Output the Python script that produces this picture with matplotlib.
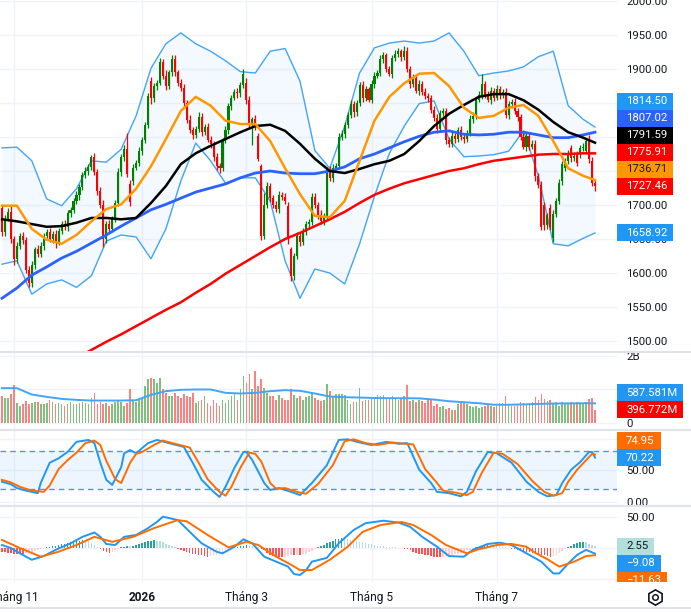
import numpy as np
import matplotlib
matplotlib.use('Agg')
import matplotlib.pyplot as plt
from matplotlib.patches import Rectangle
from matplotlib.lines import Line2D
from matplotlib.transforms import Bbox, IdentityTransform

plt.rcParams['font.family'] = ['Roboto', 'DejaVu Sans']

# ---------------- data ----------------
closes = [
    1660, 1680, 1690, 1650, 1620, 1640, 1655, 1648, 1605, 1585,
    1612, 1635, 1628, 1640, 1655, 1660, 1650, 1658, 1645, 1662,
    1672, 1668, 1688, 1692, 1706, 1714, 1726, 1744, 1750, 1756,
    1770, 1748, 1720, 1700, 1650, 1672, 1665, 1680, 1703, 1748,
    1770, 1782, 1745, 1705, 1755, 1762, 1780, 1795, 1818, 1860,
    1857, 1875, 1880, 1910, 1890, 1875, 1895, 1915, 1895, 1880,
    1872, 1850, 1825, 1810, 1803, 1812, 1830, 1808, 1815, 1796,
    1790, 1770, 1757, 1755, 1795, 1810, 1845, 1858, 1866, 1864,
    1876, 1892, 1855, 1818, 1826, 1815, 1768, 1655, 1700, 1728,
    1710, 1700, 1694, 1715, 1712, 1706, 1650, 1595, 1625, 1655,
    1646, 1660, 1672, 1675, 1712, 1700, 1686, 1677, 1684, 1752,
    1740, 1755, 1758, 1800, 1805, 1818, 1832, 1848, 1836, 1850,
    1876, 1858, 1870, 1855, 1878, 1890, 1894, 1914, 1920, 1900,
    1893, 1916, 1922, 1926, 1918, 1927, 1900, 1878, 1887, 1868,
    1878, 1866, 1860, 1857, 1840, 1828, 1812, 1835, 1838, 1795,
    1790, 1802, 1797, 1810, 1800, 1797, 1806, 1826, 1831, 1855,
    1862, 1878, 1862, 1855, 1868, 1858, 1870, 1862, 1866, 1832,
    1848, 1852, 1838, 1830, 1800, 1786, 1802, 1786, 1790, 1742,
    1730, 1668, 1670, 1685, 1668, 1687, 1706, 1732, 1760, 1765,
    1776, 1769, 1772, 1762, 1784, 1786, 1794, 1768, 1733, 1727.46,
]
# opens equal the prior close except where the picture shows a gap
open_overrides = {0: 1695, 43: 1731, 44: 1735, 50: 1882, 82: 1880, 86: 1801,
                  87: 1757, 96: 1699, 97: 1635, 182: 1700, 184: 1696, 185: 1651,
                  188: 1735, 189: 1755, 191: 1784, 193: 1775, 194: 1775,
                  196: 1780, 197: 1797, 198: 1765, 199: 1733}
wick_up = [
    4, 6, 5, 8, 5, 6, 4, 6, 5, 6, 5, 4, 6, 5, 4, 5, 6, 4, 5, 4,
    5, 6, 4, 5, 4, 6, 5, 4, 6, 5, 4, 6, 5, 6, 8, 5, 6, 4, 5, 6,
    5, 6, 24, 6, 5, 4, 6, 5, 4, 5, 6, 5, 4, 6, 5, 8, 4, 6, 5, 4,
    5, 6, 5, 8, 5, 4, 6, 5, 4, 6, 5, 4, 6, 5, 4, 6, 5, 4, 5, 6,
    5, 8, 6, 5, 4, 6, 5, 4, 18, 6, 5, 4, 6, 5, 4, 5, 6, 4, 5, 6,
    5, 6, 4, 5, 6, 5, 4, 6, 5, 4, 6, 5, 4, 6, 5, 4, 5, 6, 5, 4,
    5, 6, 5, 4, 6, 5, 4, 6, 5, 4, 5, 4, 6, 5, 4, 6, 5, 4, 5, 6,
    5, 4, 6, 5, 4, 5, 6, 4, 5, 4, 5, 6, 4, 5, 6, 5, 4, 6, 5, 4,
    5, 15, 4, 6, 5, 4, 6, 5, 4, 6, 5, 4, 6, 5, 4, 6, 5, 4, 5, 6,
    5, 6, 5, 4, 6, 5, 4, 6, 5, 4, 5, 4, 6, 5, 4, 5, 4, 6, 5, 4,
]
wick_dn = [
    6, 5, 4, 6, 8, 5, 4, 6, 5, 6, 5, 6, 4, 5, 6, 4, 5, 6, 8, 4,
    5, 4, 6, 5, 4, 5, 6, 4, 5, 6, 5, 4, 6, 5, 12, 6, 5, 4, 5, 4,
    6, 5, 4, 6, 5, 4, 5, 6, 4, 5, 8, 5, 6, 4, 5, 6, 4, 5, 6, 5,
    4, 6, 5, 4, 6, 5, 4, 6, 5, 4, 6, 5, 6, 8, 5, 4, 6, 5, 4, 6,
    5, 4, 6, 5, 30, 5, 4, 6, 5, 4, 6, 5, 4, 6, 5, 4, 8, 7, 5, 4,
    6, 5, 4, 6, 5, 4, 6, 5, 6, 4, 5, 6, 4, 5, 4, 6, 5, 4, 6, 5,
    4, 6, 5, 4, 5, 6, 4, 5, 6, 5, 4, 6, 5, 4, 6, 5, 4, 6, 5, 4,
    6, 5, 4, 6, 5, 4, 6, 5, 4, 6, 5, 4, 6, 5, 4, 6, 5, 4, 6, 5,
    4, 6, 5, 4, 6, 5, 4, 6, 5, 4, 6, 5, 4, 6, 5, 4, 6, 5, 4, 6,
    5, 4, 6, 5, 4, 6, 5, 4, 6, 5, 4, 6, 5, 4, 6, 5, 4, 6, 5, 7,
]
volume_m = [
    820, 760, 740, 880, 1120, 600, 520, 580, 650, 560,
    600, 640, 620, 560, 580, 600, 680, 640, 560, 600,
    580, 520, 560, 620, 560, 580, 600, 640, 600, 560,
    740, 900, 580, 640, 560, 600, 520, 560, 620, 700,
    620, 520, 600, 1000, 660, 620, 700, 760, 1100, 1300,
    1340, 1300, 1200, 1340, 1000, 900, 800, 800, 900, 820,
    750, 880, 800, 780, 900, 600, 650, 700, 800, 600,
    520, 700, 600, 520, 700, 600, 700, 800, 860, 700,
    1000, 1400, 1200, 1450, 1000, 1550, 1100, 1300, 1050, 900,
    800, 800, 700, 850, 750, 680, 700, 1000, 850, 750,
    800, 700, 780, 820, 900, 750, 700, 650, 700, 1150,
    950, 800, 880, 860, 860, 850, 700, 560, 640, 620,
    1050, 650, 680, 700, 720, 750, 850, 800, 830, 760,
    780, 800, 760, 700, 750, 820, 1120, 650, 700, 620,
    680, 650, 600, 700, 680, 520, 560, 480, 500, 420,
    460, 400, 380, 560, 600, 620, 560, 500, 480, 520,
    450, 480, 500, 560, 500, 480, 520, 600, 600, 800,
    580, 520, 500, 560, 620, 600, 540, 580, 640, 780,
    700, 870, 720, 650, 700, 600, 620, 520, 640, 600,
    560, 640, 580, 620, 560, 600, 640, 720, 750, 396.772,
]

# indicator lines, read every 5th bar
line_idx = list(range(0, 200, 5)) + [199]
vol_ma_m = [1040, 1040, 850, 780, 720, 690, 670, 670, 670, 680,
            840, 950, 990, 1000, 1000, 900, 880, 900, 950, 980,
            960, 880, 790, 770, 760, 745, 740, 740, 735, 700,
            650, 620, 590, 545, 545, 555, 570, 580, 585, 590, 587.581]
bb_upper = [1784, 1785, 1765, 1709, 1699, 1724, 1765, 1763, 1782, 1831,
            1901, 1937, 1953, 1937, 1926, 1912, 1896, 1894, 1926, 1930,
            1882, 1780, 1754, 1816, 1894, 1931, 1938, 1941, 1938, 1941,
            1953, 1926, 1890, 1894, 1897, 1903, 1918, 1926, 1846, 1826, 1814.50]
bb_lower = [1613, 1618, 1569, 1584, 1590, 1579, 1596, 1647, 1656, 1653,
            1621, 1665, 1735, 1791, 1765, 1732, 1740, 1740, 1706, 1618,
            1563, 1606, 1600, 1584, 1643, 1713, 1776, 1816, 1849, 1853,
            1797, 1771, 1772, 1774, 1779, 1809, 1743, 1643, 1640, 1651, 1658.92]
ma_orange = [1699, 1699, 1665, 1649, 1643, 1656, 1676, 1694, 1701, 1724,
             1757, 1797, 1838, 1859, 1846, 1824, 1819, 1819, 1794, 1754,
             1716, 1684, 1682, 1706, 1765, 1824, 1859, 1879, 1893, 1894,
             1875, 1843, 1828, 1831, 1843, 1847, 1831, 1794, 1754, 1743, 1736.71]
ma_black = [1679, 1676, 1672, 1668, 1669, 1674, 1681, 1681, 1679, 1681,
            1703, 1728, 1760, 1776, 1787, 1797, 1807, 1816, 1818, 1809,
            1790, 1768, 1750, 1747, 1753, 1760, 1765, 1775, 1794, 1816,
            1834, 1847, 1859, 1863, 1863, 1854, 1840, 1822, 1807, 1799, 1791.59]
ma_blue = [1563, 1578, 1597, 1609, 1622, 1632, 1644, 1656, 1669, 1681,
           1693, 1701, 1710, 1719, 1725, 1731, 1740, 1747, 1750, 1747,
           1746, 1746, 1750, 1756, 1768, 1775, 1784, 1793, 1801, 1807,
           1809, 1804, 1803, 1804, 1807, 1807, 1803, 1799, 1799, 1803, 1807.02]
ma_red_idx = list(range(25, 200, 5)) + [199]
ma_red = [1475, 1487, 1499, 1510, 1522, 1534, 1546, 1557, 1571, 1584,
          1599, 1612, 1625, 1638, 1650, 1659, 1669, 1679, 1690, 1703,
          1715, 1724, 1732, 1738, 1744, 1750, 1754, 1760, 1765, 1768,
          1771, 1774, 1775, 1775, 1776, 1775.91]

stoch_k_idx = [0, 3, 5, 8, 12, 13, 16, 19, 22, 25, 29, 31, 33, 35, 37, 40, 41, 43, 45, 49,
               52, 56, 61, 64, 67, 71, 73, 75, 78, 81, 82, 84, 88, 90, 93, 97, 100, 104, 109, 113,
               116, 120, 124, 129, 133, 136, 140, 144, 146, 150, 154, 156, 159, 163, 166, 171,
               176, 180, 183, 186, 188, 191, 194, 197, 198, 199]
stoch_k = [32, 28, 22, 18, 14, 30, 62, 69, 79, 95, 98, 93, 62, 35, 27, 55, 77, 82, 77, 93,
           98, 93, 87, 62, 35, 16, 8, 24, 54, 79, 79, 66, 30, 19, 22, 16, 11, 30, 58, 98,
           99, 94, 90, 95, 92, 93, 51, 30, 16, 14, 9, 16, 48, 79, 77, 62,
           32, 16, 9, 11, 30, 51, 63, 79, 79, 70.22]
stoch_d_idx = [0, 3, 6, 10, 14, 16, 19, 22, 25, 28, 31, 33, 35, 38, 40, 43, 45, 47, 51, 54,
               58, 63, 66, 69, 73, 75, 77, 80, 83, 85, 87, 90, 92, 95, 99, 102, 106, 111, 115, 118,
               122, 126, 131, 135, 138, 142, 146, 148, 152, 156, 158, 161, 165, 168, 173, 178,
               182, 185, 188, 190, 193, 196, 198, 199]
stoch_d = [35, 31, 24, 18, 16, 26, 52, 66, 78, 93, 97, 90, 65, 36, 30, 62, 76, 79, 90, 97,
           92, 86, 62, 36, 16, 10, 24, 54, 78, 76, 64, 30, 21, 22, 16, 13, 28, 58, 96, 99,
           93, 90, 94, 92, 91, 52, 30, 18, 15, 11, 16, 46, 78, 76, 60, 33,
           16, 10, 14, 32, 51, 66, 76, 74.95]

macd_idx = [0, 3, 6, 10, 14, 18, 23, 27, 31, 33, 35, 38, 41, 45, 49, 52, 54, 59, 63, 67,
            72, 74, 78, 81, 84, 88, 92, 96, 98, 100, 102, 104, 109, 113, 118, 122, 128, 133,
            137, 141, 146, 150, 155, 158, 163, 167, 171, 176, 181, 185, 187, 190, 193, 196, 199]
macd = [4.8, 0, -8.6, -19, -13, -3, 7.5, 18, 25, 18, 6.5, 4.8, 18, 21, 32, 42, 50.5, 45, 26, 7.5,
        -6, -8.6, 2, 14, 7.5, -14, -22, -30, -42, -43.5, -36, -22, -16, 7.5, 29, 40, 44, 41,
        34, 18, 2, -13, -14, -3, 6.5, 8.6, 4.8, -8.6, -22, -41, -41, -25, -11, -3, -9.08]
signal_idx = [0, 6, 13, 19, 25, 31, 37, 44, 51, 59, 62, 69, 76, 82, 86, 92, 97, 100, 104, 110,
              116, 121, 127, 134, 138, 144, 149, 156, 160, 166, 171, 176, 179, 183, 187, 192, 196, 199]
signal = [13, 0, -14, -6, 4.8, 18, 10, 18, 32, 45, 43, 21, 1, 10, 4.8, -14, -27, -35.5, -35.5, -19,
          2, 26, 37, 42, 37, 21, 4.8, -8.6, -2, 4.8, 6.5, 2, -8, -18, -30, -22, -13, -11.63]
macd_hist = [
    -6, -7, -8, -8, -9, -9, -9,
    -9, -8, -7, -6, -5, -4, -2, -1,
    1, 2, 3, 4, 5, 6, 7, 8, 9, 10, 11, 12, 13, 12, 11, 8, 5,
    2, -2, -5, -7, -8, -6, -4, -2, 1,
    2, 3, 3, 4, 5, 6, 8, 10, 11, 12, 13, 12, 11, 9,
    7, 5, 3, 1, -1, -3, -5, -7, -8, -9, -10, -11, -12, -13,
    -14, -13, -12, -11, -10, -8, -6, -4, -2, 0,
    2, 3, 4, 5, 4, 3, 2, 1,
    -1, -4, -8, -11, -13, -14, -15, -15, -14, -13, -12, -12, -11, -11,
    -10, -9, -7, -5, -2, 1, 3, 5, 8, 10, 12, 14, 15,
    16, 15, 14, 13, 12, 11, 10, 9, 8, 7, 6, 5, 4, 3, 3, 2, 2, 1, 1, 0, 0,
    -1, -2, -4, -6, -8, -9, -10, -11, -12, -13, -14, -15, -15, -14, -13, -12,
    -11, -10, -9, -8, -6, -4, -3, -1, 1, 2,
    3, 4, 5, 5, 4, 4, 3, 2, 1, 0, -1, -2, -3, -4,
    -5, -6, -7, -8, -9, -10, -11, -12, -13, -14, -13, -11,
    -8, -5, -2, 1, 4, 6, 8, 9, 10, 9, 7, 5, 2.55,
]

month_idx = [4, 47, 82, 124, 166]
month_labels = ['Tháng 11', '2026', 'Tháng 3', 'Tháng 5', 'Tháng 7']

# ---------------- layout (pixels of the 691x612 picture) ----------------
W, H = 691, 612
PLOT_W = 617
X_LO, X_HI = -0.67, 206.38
GRID = '#f0f3fa'
INK = '#131722'
SEP = '#e0e3eb'
TAG_H = 17
UP, DOWN = '#008000', '#ff0000'

fig = plt.figure(figsize=(W / 100, H / 100), dpi=100)
fig.patch.set_facecolor('white')


def pane(top_px, bottom_px, ylim):
    ax = fig.add_axes([0, 1 - bottom_px / H, PLOT_W / W, (bottom_px - top_px) / H])
    ax.set_xlim(X_LO, X_HI)
    ax.set_ylim(*ylim)
    for s in ax.spines.values():
        s.set_visible(False)
    ax.set_facecolor('none')
    ax.tick_params(axis='x', length=0, labelbottom=False)
    ax.yaxis.tick_right()
    ax.tick_params(axis='y', length=0, pad=6.5, labelsize=8.2, labelcolor=INK)
    for m in month_idx:
        ax.axvline(m, color=GRID, lw=1, zorder=0)
    return ax


x = np.arange(len(closes))
c = np.array(closes, dtype=float)
o = np.array([open_overrides.get(i, closes[i - 1]) for i in range(len(closes))], dtype=float)
up = c >= o
highs = np.maximum(o, c) + np.array(wick_up)
lows = np.minimum(o, c) - np.array(wick_dn)
cols = np.where(up, UP, DOWN)

# price pane
ax = pane(0, 352, (1484, 2001.3))
grid_levels = list(range(1500, 2001, 50))
for v in grid_levels:
    ax.axhline(v, color=GRID, lw=1, zorder=0)
# the labels at 1750-1850 sit under the value tags, so they are not drawn
shown = [v for v in grid_levels if v not in (1750, 1800, 1850)]
ax.set_yticks(shown)
ax.set_yticklabels([f'{v:.2f}' for v in shown])
ax.fill_between(line_idx, bb_lower, bb_upper, color='#2196f3', alpha=0.05, lw=0, zorder=1)
ax.plot(line_idx, bb_upper, color='#42a5f5', lw=1.0, zorder=2)
ax.plot(line_idx, bb_lower, color='#42a5f5', lw=1.0, zorder=2)
ax.vlines(x, lows, highs, colors=cols, lw=0.9, zorder=3)
ax.bar(x, np.maximum(np.abs(c - o), 0.8), bottom=np.minimum(o, c), width=0.7,
       color=cols, lw=0, zorder=3.1)
ax.plot(ma_red_idx, ma_red, color='#ff0000', lw=1.8, zorder=4)
ax.plot(line_idx, ma_blue, color='#2962ff', lw=2.0, zorder=4)
ax.plot(line_idx, ma_black, color='#000000', lw=1.8, zorder=4)
ax.plot(line_idx, ma_orange, color='#ff9800', lw=1.8, zorder=4)

# volume pane
axv = pane(352, 430, (-209, 2119))
axv.set_yticks([0, 2000])
axv.set_yticklabels(['0', '2B'])
for v in (0, 1000, 2000):
    axv.axhline(v, color=GRID, lw=1, zorder=0)
axv.bar(x, volume_m, width=0.55, color=np.where(up, '#80bf80', '#ff8080'), lw=0, zorder=2)
axv.plot(line_idx, vol_ma_m, color='#42a5f5', lw=1.4, zorder=3)

# stochastic pane
axs = pane(430, 506, (-6.3, 113.7))
axs.set_yticks([0, 50])
axs.set_yticklabels(['0.00', '50.00'])
for v in (0, 50, 100):
    axs.axhline(v, color=GRID, lw=1, zorder=0)
axs.axhspan(20, 80, color='#2196f3', alpha=0.08, lw=0, zorder=0.5)
for v in (20, 80):
    axs.axhline(v, color='#5b8fe8', lw=1, ls=(0, (4, 3)), zorder=1)
axs.plot(stoch_k_idx, stoch_k, color='#2196f3', lw=1.4, zorder=3)
axs.plot(stoch_d_idx, stoch_d, color='#ff6d00', lw=1.4, zorder=3)

# MACD pane
axm = pane(506, 582, (-54.8, 67.7))
axm.set_yticks([50])
axm.set_yticklabels(['50.00'])
for v in (-50, 0, 50):
    axm.axhline(v, color=GRID, lw=1, zorder=0)
hist = np.array(macd_hist, dtype=float)
prev = np.concatenate([[hist[0]], hist[:-1]])
hcols = np.where(hist >= 0, np.where(hist > prev, '#26a69a', '#b2dfdb'),
                 np.where(hist > prev, '#ffcdd2', '#ff5252'))
axm.bar(x, hist, width=0.5, color=hcols, lw=0, zorder=2)
axm.plot(macd_idx, macd, color='#2196f3', lw=1.4, zorder=3)
axm.plot(signal_idx, signal, color='#ff6d00', lw=1.4, zorder=3)

axm.set_xticks(month_idx)
axm.set_xticklabels(month_labels)
axm.tick_params(axis='x', labelbottom=True, pad=6.5, labelsize=8.6, labelcolor=INK)
axm.get_xticklabels()[1].set_fontweight('bold')

# value tags on the price scale
tags = []


def put_tags(a, items, anchor):
    ys = [a.transData.transform((0, v))[1] for v, _, _, _ in items]
    order = sorted(range(len(items)), key=lambda k: ys[k])
    if anchor == 'top':
        order = order[::-1]
    pos, last = {}, None
    for k in order:
        if last is None:
            y = ys[k]
        elif anchor == 'bottom':
            y = max(ys[k], last + TAG_H)
        else:
            y = min(ys[k], last - TAG_H)
        pos[k] = last = y
    bb = a.get_window_extent()
    clip = Bbox.from_extents(0, bb.y0, W, bb.y1)
    for k, (v, s, face, ink) in enumerate(items):
        t = fig.text(626 / W, pos[k] / H, s, color=ink, fontsize=8.2,
                     va='center', ha='left', zorder=11)
        t.set_clip_box(clip)
        t.set_clip_on(True)
        tags.append((t, pos[k], face, clip))


put_tags(ax, [(bb_upper[-1], '1814.50', '#2196f3', 'white'),
              (ma_blue[-1], '1807.02', '#2962ff', 'white'),
              (ma_black[-1], '1791.59', '#000000', 'white'),
              (ma_red[-1], '1775.91', '#ff0000', 'white'),
              (ma_orange[-1], '1736.71', '#ff9800', INK),
              (closes[-1], '1727.46', '#ff0000', 'white'),
              (bb_lower[-1], '1658.92', '#2196f3', 'white')], 'bottom')
put_tags(axv, [(vol_ma_m[-1], '587.581M', '#2196f3', 'white'),
               (volume_m[-1], '396.772M', '#ff0000', 'white')], 'bottom')
put_tags(axs, [(stoch_d[-1], '74.95', '#ff6d00', 'white'),
               (stoch_k[-1], '70.22', '#2196f3', 'white')], 'bottom')
put_tags(axm, [(macd_hist[-1], '2.55', '#b2dfdb', INK),
               (macd[-1], '\u22129.08', '#2196f3', 'white'),
               (signal[-1], '\u221211.63', '#ff6d00', 'white')], 'top')

fig.canvas.draw()
renderer = fig.canvas.get_renderer()
for t, yc, face, clip in tags:
    e = t.get_window_extent(renderer)
    r = Rectangle((PLOT_W, yc - TAG_H / 2), e.x1 + 6 - PLOT_W, TAG_H,
                  transform=IdentityTransform(), facecolor=face, edgecolor='none', zorder=10)
    r.set_clip_box(clip)
    r.set_clip_on(True)
    fig.add_artist(r)

# pane separators and bottom border
for ypx in (352, 430, 506, 608):
    fig.add_artist(Line2D([0, 1], [1 - ypx / H] * 2, color=SEP, lw=1.5,
                          transform=fig.transFigure))

# settings icon
fig.add_artist(Line2D([655 / W], [1 - 597 / H], marker='h', markersize=11, mfc='none',
                      mec=INK, mew=1.2, transform=fig.transFigure))
fig.add_artist(Line2D([655 / W], [1 - 597 / H], marker='o', markersize=4, mfc='none',
                      mec=INK, mew=1.1, transform=fig.transFigure))

fig.savefig('out.png', dpi=100)
plt.close(fig)
